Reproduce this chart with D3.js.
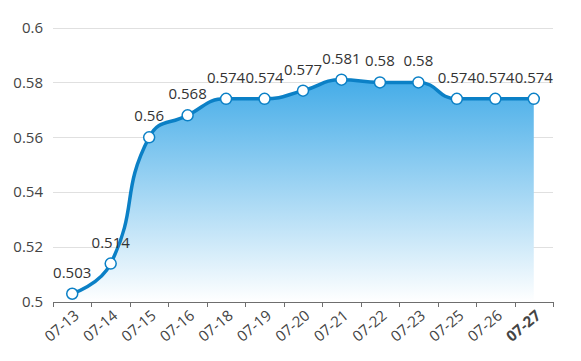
<!DOCTYPE html>
<html><head><meta charset="utf-8">
<script src="https://cdn.jsdelivr.net/npm/d3@7/dist/d3.min.js"></script>
<style>html,body{margin:0;padding:0;background:#fff;}svg{display:block;}</style>
</head><body>
<svg id="c" width="581" height="361"></svg>
<script>
const categories = ["07-13","07-14","07-15","07-16","07-18","07-19","07-20","07-21","07-22","07-23","07-25","07-26","07-27"];
const values = [0.503,0.514,0.56,0.568,0.574,0.574,0.577,0.581,0.58,0.58,0.574,0.574,0.574];
const yTicks = [0.5,0.52,0.54,0.56,0.58,0.6];

const W=581,H=361, L=53, R=553, T=27.5, B=302;
const font = "'Open Sans', 'Noto Sans', sans-serif";
const svg = d3.select("#c");
const x = d3.scaleBand().domain(categories).range([L,R]);
const y = d3.scaleLinear().domain([0.5,0.6]).range([B,T]);
const cx = d => x(d) + x.bandwidth()/2;

const defs = svg.append("defs");
const grad = defs.append("linearGradient").attr("id","g").attr("x1",0).attr("y1",0).attr("x2",0).attr("y2",1);
grad.append("stop").attr("offset","0%").attr("stop-color","#44ace8");
grad.append("stop").attr("offset","100%").attr("stop-color","#ffffff");

// grid
svg.append("g").selectAll("line").data(yTicks.filter(t=>t>0.5)).join("line")
  .attr("x1",L).attr("x2",R).attr("y1",d=>Math.round(y(d))+0.5).attr("y2",d=>Math.round(y(d))+0.5)
  .attr("stroke","#e0e0e0").attr("stroke-width",1);

// y labels
svg.append("g").selectAll("text").data(yTicks).join("text")
  .attr("x",43).attr("y",d=>y(d)).attr("dy","0.35em").attr("text-anchor","end")
  .attr("font-family",font).attr("font-size",15).attr("fill","#444")
  .text(d=>d3.format("")(d));

// echarts-like smooth path
const pts = categories.map((c,i)=>[cx(c), y(values[i])]);
function smoothPath(points, smooth){
  const p = d3.path();
  let cpx0,cpy0,cpx1,cpy1,prevX,prevY,nextCpx0,nextCpy0;
  const n = points.length;
  for(let k=0;k<n;k++){
    const [xx,yy] = points[k];
    if(k===0){ p.moveTo(xx,yy); cpx0=xx; cpy0=yy; }
    else {
      if(k===n-1){ cpx1=xx; cpy1=yy; }
      else {
        const [nx,ny] = points[k+1];
        let vx=nx-prevX, vy=ny-prevY;
        const dx0=xx-prevX, dx1=nx-xx, dy0=yy-prevY, dy1=ny-yy;
        const lp=Math.sqrt(dx0*dx0+dy0*dy0), ln=Math.sqrt(dx1*dx1+dy1*dy1);
        const r = ln/(ln+lp);
        nextCpx0 = xx+vx*smooth*r; nextCpy0 = yy+vy*smooth*r;
        nextCpx0=Math.min(nextCpx0,Math.max(nx,xx)); nextCpy0=Math.min(nextCpy0,Math.max(ny,yy));
        nextCpx0=Math.max(nextCpx0,Math.min(nx,xx)); nextCpy0=Math.max(nextCpy0,Math.min(ny,yy));
        vx=nextCpx0-xx; vy=nextCpy0-yy;
        cpx1 = xx - vx*lp/ln; cpy1 = yy - vy*lp/ln;
        cpx1=Math.min(cpx1,Math.max(prevX,xx)); cpy1=Math.min(cpy1,Math.max(prevY,yy));
        cpx1=Math.max(cpx1,Math.min(prevX,xx)); cpy1=Math.max(cpy1,Math.min(prevY,yy));
        vx=xx-cpx1; vy=yy-cpy1;
        nextCpx0 = xx+vx*ln/lp; nextCpy0 = yy+vy*ln/lp;
      }
      p.bezierCurveTo(cpx0,cpy0,cpx1,cpy1,xx,yy);
      cpx0=nextCpx0; cpy0=nextCpy0;
    }
    prevX=xx; prevY=yy;
  }
  return p.toString();
}
const linePath = smoothPath(pts, 0.5);
const areaPath = linePath + `L${pts[pts.length-1][0]},${y(0.5)}L${pts[0][0]},${y(0.5)}Z`;
svg.append("path").attr("d",areaPath).attr("fill","url(#g)");

// x axis
svg.append("line").attr("x1",L).attr("x2",R).attr("y1",B+0.5).attr("y2",B+0.5).attr("stroke","#6e6e6e").attr("stroke-width",1.2);
const bounds = d3.range(categories.length+1).map(i=>L+i*x.bandwidth());
svg.append("g").selectAll("line").data(bounds).join("line")
  .attr("x1",d=>Math.round(d)+0.5).attr("x2",d=>Math.round(d)+0.5).attr("y1",B).attr("y2",B+5)
  .attr("stroke","#6e6e6e").attr("stroke-width",1);
svg.append("g").selectAll("text").data(categories).join("text")
  .attr("transform",d=>`translate(${cx(d)+1},${B+7}) rotate(-40)`)
  .attr("text-anchor","end").attr("dy","0.72em")
  .attr("font-family",font).attr("font-size",15).attr("fill","#444")
  .attr("font-weight",(d,i)=>i===categories.length-1?"bold":"normal")
  .text(d=>d);

svg.append("path").attr("d",linePath).attr("fill","none").attr("stroke","#0b80c6").attr("stroke-width",3.5).attr("stroke-linejoin","round");

svg.append("g").selectAll("circle").data(pts).join("circle")
  .attr("cx",d=>d[0]).attr("cy",d=>d[1]).attr("r",5.5)
  .attr("fill","#fff").attr("stroke","#0b80c6").attr("stroke-width",1.5);

svg.append("g").selectAll("text").data(categories).join("text")
  .attr("x",d=>cx(d)).attr("y",(d,i)=>y(values[i])-16)
  .attr("text-anchor","middle").attr("font-family",font).attr("font-size",15).attr("fill","#333")
  .text((d,i)=>String(values[i]));
</script>
</body></html>
